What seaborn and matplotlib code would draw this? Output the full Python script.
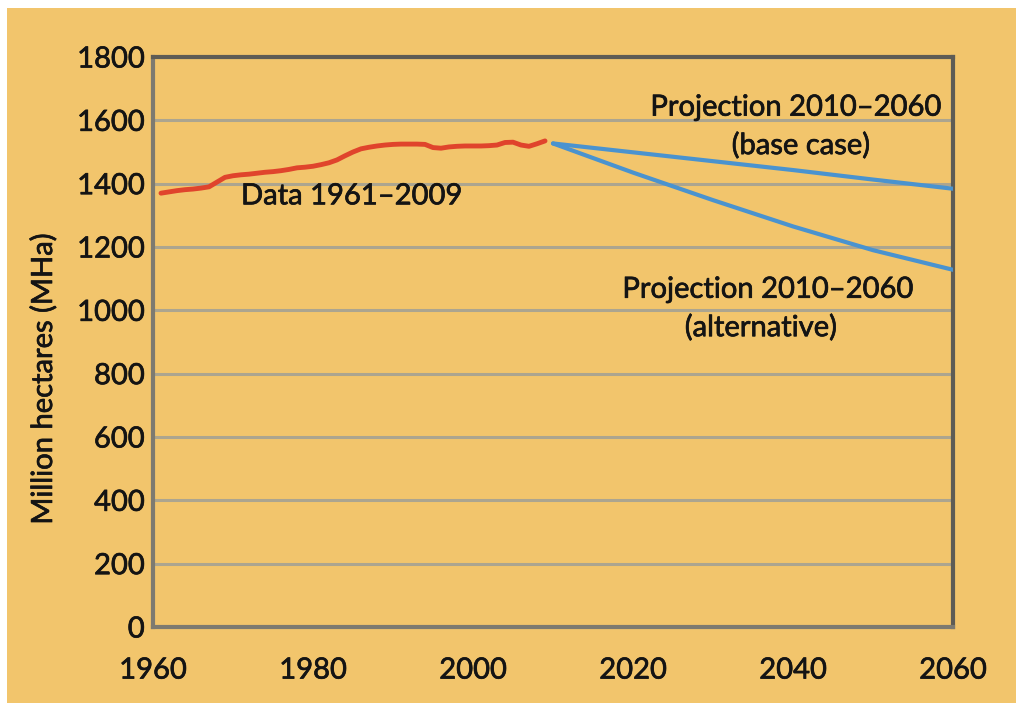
import numpy as np
import pandas as pd
import matplotlib
matplotlib.use("Agg")
import matplotlib.pyplot as plt
import matplotlib.patheffects as pe
import seaborn as sns

data_years = list(range(1961, 2010))
data_vals = [1370, 1374, 1378, 1381, 1383, 1386, 1390, 1405, 1420, 1425,
             1428, 1430, 1433, 1436, 1438, 1441, 1445, 1450, 1452, 1455,
             1460, 1466, 1475, 1488, 1500, 1510, 1515, 1519, 1522, 1524,
             1525, 1525, 1525, 1524, 1514, 1512, 1516, 1518, 1519, 1519,
             1519, 1520, 1522, 1530, 1531, 1522, 1518, 1526, 1535]

# projections 2010-2060
proj_years = [2010, 2020, 2030, 2040, 2050, 2060]
base_vals = [1527, 1499, 1471, 1443, 1413, 1384]
alt_vals = [1527, 1435, 1348, 1265, 1190, 1128]

y_ticks = [0, 200, 400, 600, 800, 1000, 1200, 1400, 1600, 1800]
x_ticks = [1960, 1980, 2000, 2020, 2040, 2060]

bg = "#f2c56c"
ink = "#141414"
sns.set_style("white")
plt.rcParams['font.family'] = ['Lato', 'DejaVu Sans']
thick = [pe.withStroke(linewidth=0.5, foreground=ink)]

fig = plt.figure(figsize=(10.16, 7.03), dpi=100, facecolor="white")
fig.add_artist(plt.Rectangle((7 / 1016, 0), 1, 1 - 8 / 703, transform=fig.transFigure,
                             facecolor=bg, edgecolor="none", zorder=-10))
ax = fig.add_axes([153 / 1016, 76 / 703, 800 / 1016, 570 / 703])
ax.set_zorder(1)
ax.set_facecolor(bg)

df_data = pd.DataFrame({"year": data_years, "val": data_vals})
df_base = pd.DataFrame({"year": proj_years, "val": base_vals})
df_alt = pd.DataFrame({"year": proj_years, "val": alt_vals})

sns.lineplot(data=df_data, x="year", y="val", ax=ax, color="#e0442c", lw=3.5, zorder=3)
sns.lineplot(data=df_base, x="year", y="val", ax=ax, color="#4a93cf", lw=3, zorder=3)
sns.lineplot(data=df_alt, x="year", y="val", ax=ax, color="#4a93cf", lw=3, zorder=3)

ax.set_xlim(1960, 2060)
ax.set_ylim(0, 1800)
ax.set_yticks(y_ticks)
ax.set_xticks(x_ticks)
ax.set_yticklabels([str(v) for v in y_ticks])
ax.set_xticklabels([str(v) for v in x_ticks])
ax.yaxis.grid(True, color="#aca58f", lw=2.2)
ax.set_axisbelow(True)

ax.tick_params(axis="y", length=0, pad=6, labelsize=21, labelcolor=ink)
ax.tick_params(axis="x", direction="in", length=9, width=2, color="#8a8578",
               pad=22, labelsize=21, labelcolor=ink)
for lab in ax.get_xticklabels() + ax.get_yticklabels():
    lab.set_path_effects(thick)

for side in ["left", "bottom"]:
    ax.spines[side].set_color("#7d7a70")
    ax.spines[side].set_linewidth(3)
for side in ["top", "right"]:
    ax.spines[side].set_color("#5e5c55")
    ax.spines[side].set_linewidth(3)

ax.set_xlabel("")
ax.set_ylabel("Million hectares (MHa)", fontsize=21, color=ink, path_effects=thick)
ax.yaxis.set_label_coords(-0.12, 0.435)

ax.text(1971, 1360, "Data 1961\u20132009", fontsize=21, color=ink, va="center",
        path_effects=thick)
ax.text(2058.5, 1640, "Projection 2010\u20132060", fontsize=21, color=ink,
        ha="right", va="center", path_effects=thick)
ax.text(2041, 1520, "(base case)", fontsize=21, color=ink, ha="center", va="center",
        path_effects=thick)
ax.text(2055, 1065, "Projection 2010\u20132060", fontsize=21, color=ink,
        ha="right", va="center", path_effects=thick)
ax.text(2036, 945, "(alternative)", fontsize=21, color=ink, ha="center", va="center",
        path_effects=thick)

fig.savefig("out.png", dpi=100, facecolor=fig.get_facecolor())
